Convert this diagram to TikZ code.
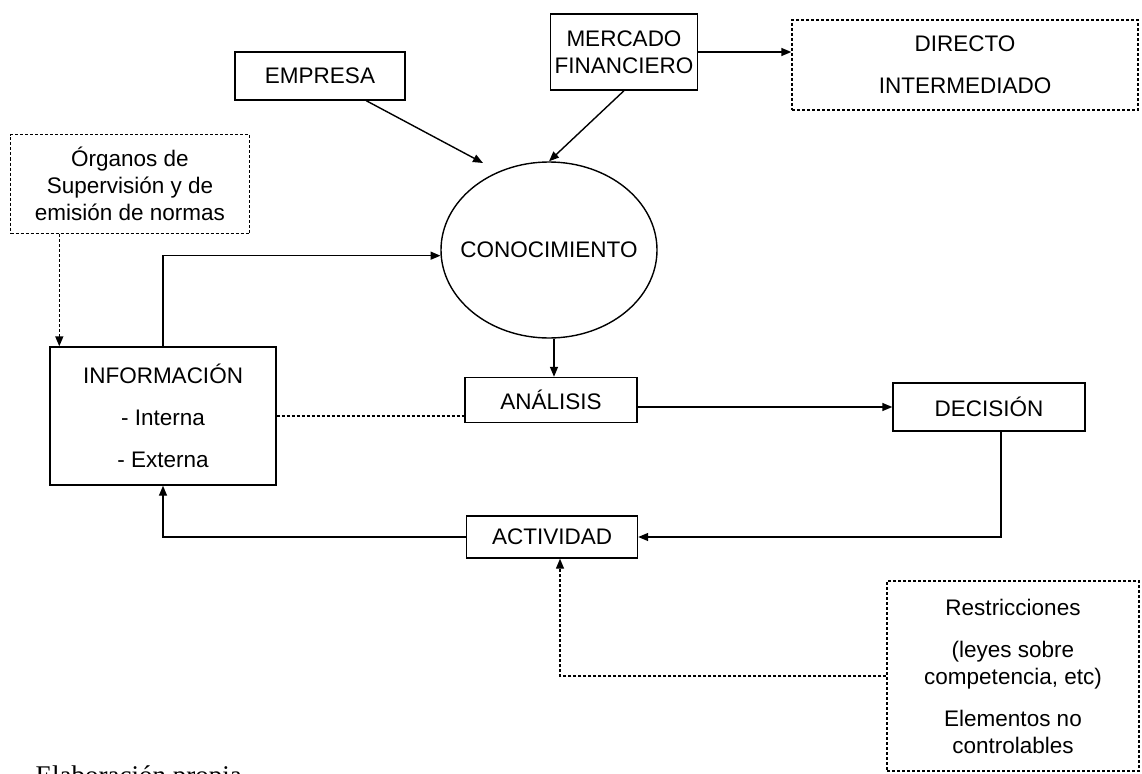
\documentclass[tikz,border=0pt]{standalone}
\usepackage{fontspec}
\setmainfont{Liberation Sans}
\newfontfamily\piefont{Liberation Serif}
\usepackage{tikz}
\usetikzlibrary{arrows.meta}
\usetikzlibrary{shapes.geometric}

\tikzset{
	caja/.style={draw=black,line width=1.4pt,inner sep=0pt,align=center},
	cajap/.style={caja,densely dashed},
}

\begin{document}
\begin{tikzpicture}[x=1pt,y=-1pt,>={Triangle[length=10pt,width=8pt]},line width=1.4pt,font=\fontsize{22.5}{27}\selectfont]
			\useasboundingbox (0,0) rectangle (1142,773);
			
			% arriba
			
			\node[caja,minimum width=170pt,minimum height=48pt] (E) at (320,76) {EMPRESA};
			\node[caja,minimum width=147pt,minimum height=76pt] (M) at (624,52) {MERCADO\\FINANCIERO};
			\node[cajap,minimum width=346pt,minimum height=90pt] (D) at (965,65) {DIRECTO\\[15pt]INTERMEDIADO};
			\node[cajap,minimum width=239pt,minimum height=99pt] (O) at (130,184) {Órganos de\\Supervisión y de\\emisión de normas};
			\node[draw=black,ellipse,line width=1.4pt,minimum width=216pt,minimum height=176pt,inner xsep=-16pt,inner ysep=0pt] (C) at (549,250) {CONOCIMIENTO};
			\coordinate (CE) at (483,163);
			
			% centro
			
			\node[caja,minimum width=226pt,minimum height=138pt] (I) at (163,416) {INFORMACIÓN\\[15pt]- Interna\\[15pt]- Externa};
			\node[caja,minimum width=172pt,minimum height=45pt] (A) at (551,400) {ANÁLISIS};
			\node[caja,minimum width=192pt,minimum height=48pt] (DE) at (989,407) {DECISIÓN};
			\node[caja,minimum width=171pt,minimum height=42pt] (AC) at (552,537) {ACTIVIDAD};
			
			% abajo
			
			\node[cajap,minimum width=252pt,minimum height=190pt] (R) at (1013,676) {Restricciones\\[15pt](leyes sobre\\competencia, etc)\\[15pt]Elementos no\\controlables};
			
			\draw[->] (E) -- (CE);
			\draw[->] (M.south) -- (C.north);
			\draw[->] (M.east) -- (M.east -| D.west);
			\draw[->,densely dashed] ([xshift=10pt]I.north west |- O.south) -- ([xshift=10pt]I.north west);
			\draw[->] (I.north) |- (C.183);
			\draw[->] ([xshift=5pt]C.south) -- ([xshift=5pt]C.south |- A.north);
			\draw[densely dashed] (I.east) -- (I.east -| A.west);
			\draw[->] (DE.west -| A.east) -- (DE.west);
			\draw[->] ([xshift=12pt]DE.south) |- (AC.east);
			\draw[->] (AC.west) -| (I.south);
			\draw[->,densely dashed] (R.west) -| ([xshift=8pt]AC.south);
			
			\begin{scope}
				\clip (0,0) rectangle (1142,773);
				\node[anchor=north west,inner sep=0pt,font=\piefont\fontsize{27}{30}\selectfont] (F) at (35,765) {Elaboración propia};
			\end{scope}
		\end{tikzpicture}
\end{document}
